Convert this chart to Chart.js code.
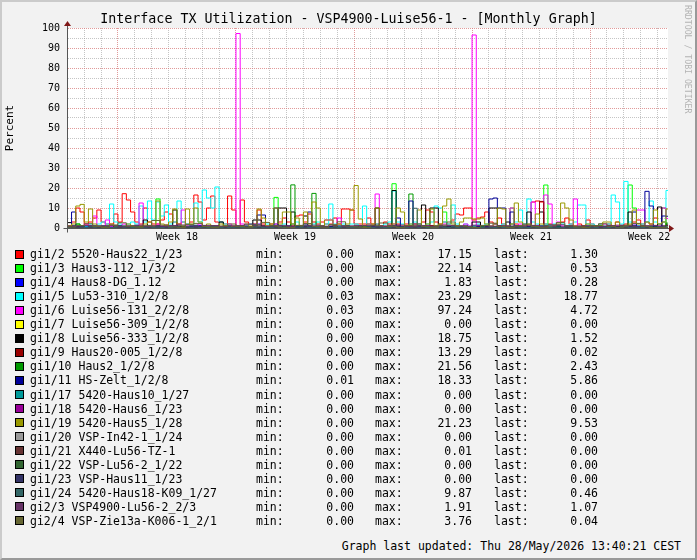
<!DOCTYPE html>
<html>
<head>
<meta charset="utf-8">
<title>Interface TX Utilization</title>
<script src="https://cdn.jsdelivr.net/npm/chart.js@4.4.1/dist/chart.umd.min.js"></script>
<style>
  html, body { margin: 0; padding: 0; background: #f2f2f2; }
  #frame { position: relative; width: 697px; height: 560px; overflow: hidden; background: #f2f2f2;
           font-family: "DejaVu Sans Mono", monospace; color: #000; }
  #edge { position: absolute; left: 0; top: 0; width: 697px; height: 560px; box-sizing: border-box;
          border-top: 2px solid #cbcbcb; border-left: 2px solid #cbcbcb;
          border-right: 2px solid #999; border-bottom: 2px solid #999; pointer-events: none; }
  #c { position: absolute; left: 0; top: 0; }
  .cell { position: absolute; white-space: pre; font-size: 11.5px; line-height: 14px; }
  .sw { position: absolute; left: 15px; width: 7px; height: 7px; border: 1px solid #000; }
  #stamp { position: absolute; right: 16px; top: 539px; font-size: 11.5px; line-height: 14px; white-space: pre; }
  #mark { position: absolute; left: 683px; top: 5px; writing-mode: vertical-rl; font-size: 8.2px;
          color: #b4b4b4; white-space: pre; }
</style>
</head>
<body>
<div id="frame">
  <canvas id="c" width="697" height="250"></canvas>
  <div id="legend"></div>
  <div id="stamp">Graph last updated: Thu 28/May/2026 13:40:21 CEST</div>
  <div id="mark">RRDTOOL / TOBI OETIKER</div>
  <div id="edge"></div>
</div>
<script>
// time axis in days, 0 = start of week 18
const START = -3;
const Q = 0.25;   // 6 hour samples
const H = 0.5;    // 12 hour samples
const D = 1;      // daily samples
const X_MIN = -3.02;
const X_MAX = 32.62;
const WEEK_POS = [3.5, 10.5, 17.5, 24.5, 31.5];
const WEEKS = ["Week 18", "Week 19", "Week 20", "Week 21", "Week 22"];

const RED = [
  1, 3, 10, 8, 2, 3, 5, 9, 3, 2,
  2, 7, 3, 17.15, 14, 8, 3, 2, 10, 3,
  2, 2, 4, 8, 7, 3, 2, 3, 2, 3,
  16.5, 13, 4, 10, 16, 3, 3, 2, 16, 9,
  1, 14, 3, 2, 2, 9, 2, 1, 2, 2,
  3, 5, 3, 2, 6, 6.5, 3, 7, 3, 2,
  3, 2, 2, 5, 2, 9.5, 9.5, 9, 2, 2,
  2, 5, 2, 2, 1, 3, 2, 1, 2, 1,
  2, 1, 2, 2, 3, 9, 8, 3, 2, 3,
  2, 4, 7, 6.5, 10, 10, 4, 5, 5.5, 8,
  3, 2, 5, 2, 1, 2, 2, 1, 2, 1,
  13, 13.5, 13, 2, 2, 1, 1, 3, 5, 2,
  1, 2, 1, 4, 2, 1, 2, 1, 2, 1,
  3, 1, 2, 1, 3, 4, 2, 3, 2, 5,
  2, 3, 1.3
];
const GREEN = [
  0.5, 0.3, 2.0, 0.4, 0.2, 0.7, 0.3, 0.5, 1.0, 0.4,
  0.2, 0.6, 0.3, 0.8, 1.0, 0.4, 0.2, 0.5, 0.3, 0.9,
  0.2, 14.5, 0.6, 0.3, 0.5, 1.2, 0.4, 1.0, 0.3, 0.6,
  0.2, 0.5, 0.8, 0.4, 0.2, 0.7, 0.3, 0.5, 0.2, 0.4,
  0.3, 0.6, 1.1, 0.5, 0.3, 0.4, 0.2, 0.8, 0.3, 15.3,
  0.5, 0.2, 0.4, 0.9, 0.6, 0.2, 0.5, 0.3, 0.4, 1.0,
  0.3, 0.6, 0.2, 0.5, 0.8, 0.4, 0.2, 0.6, 0.3, 0.5,
  1.2, 0.4, 0.3, 0.6, 0.2, 0.5, 1.0, 22.14, 0.4, 0.2,
  0.6, 0.3, 0.5, 0.9, 0.4, 0.3, 0.6, 0.2, 1.1, 8.0,
  0.4, 0.2, 0.6, 0.3, 0.5, 0.8, 0.4, 0.3, 0.6, 0.2,
  0.5, 0.3, 0.9, 0.2, 0.6, 10.0, 0.3, 0.5, 0.2, 0.4,
  0.3, 0.6, 1.0, 21.5, 0.5, 0.3, 0.4, 0.2, 0.7, 0.3,
  0.5, 0.2, 0.4, 0.8, 0.6, 0.2, 0.5, 0.3, 0.4, 0.9,
  0.6, 0.3, 0.5, 21.5, 10.0, 0.4, 0.2, 0.6, 0.3, 0.5,
  0.2, 10.0, 0.53
];
const BLUE = [
  0.3, 0.5, 0.8, 0.4, 0.2, 0.6, 1.1, 0.5, 0.3, 0.7,
  0.4, 0.9, 0.6, 0.3, 0.5, 1.2, 0.4, 0.2, 0.6, 0.8,
  0.3, 0.5, 1.83, 0.7, 0.4, 0.3, 0.6, 0.9, 0.5, 0.2,
  0.4, 0.7, 1.0, 0.5, 0.3, 0.6, 0.4, 0.8, 1.3, 0.5,
  0.3, 0.2, 0.6, 0.9, 0.4, 0.7, 0.5, 0.3, 1.1, 0.6,
  0.4, 0.2, 0.5, 0.8, 0.6, 0.3, 0.7, 1.4, 0.5, 0.4,
  0.2, 0.6, 0.9, 0.3, 0.5, 0.7, 0.4, 1.0, 0.6, 0.3,
  0.4, 0.28
];
const CYAN = [
  0.5, 1, 1, 0.5, 1, 2, 1, 2, 3, 2,
  12, 3, 2, 1, 2, 3, 2, 11, 3, 13.5,
  4, 13, 6, 11.5, 2, 3, 13.5, 3, 2, 1,
  12.5, 3, 19, 15, 10, 20.5, 3, 2, 1, 1,
  1, 0.5, 1, 2, 1, 2, 1, 2, 1, 2,
  1, 2, 1, 2, 3, 1, 2, 1, 2, 3,
  1, 2, 12, 2, 1, 2, 1, 2, 2, 1,
  11, 2, 1, 2, 1, 2, 3, 18.5, 3, 2,
  1, 2, 3, 2, 1, 2, 3, 11, 10, 3,
  2, 11.5, 2, 1, 2, 1, 1, 2, 1, 2,
  1, 2, 1, 2, 1, 2, 3, 9, 2, 14.5,
  3, 2, 1, 2, 1, 2, 1, 2, 1, 2,
  3, 11.5, 11.5, 2, 2, 1, 2, 1, 2, 16.5,
  13, 2, 23.29, 3, 2, 1, 2, 3, 13.5, 3,
  2, 3, 18.77
];
const MAGENTA = [
  0.5, 1, 0.5, 1, 2, 1, 6, 1, 0.5, 4,
  1, 0.5, 1, 2, 1, 0.5, 1, 12.5, 1, 0.5,
  1, 2, 1, 0.5, 1, 1, 2, 9, 1, 0.5,
  1, 2, 1, 0.5, 1, 1, 0.5, 1, 2, 1,
  97.24, 2, 1, 0.5, 1, 2, 1, 0.5, 1, 2,
  1, 0.5, 1, 1, 0.5, 1, 2, 1, 0.5, 1,
  1, 4, 4, 1, 5, 1, 0.5, 1, 1, 0.5,
  1, 2, 1, 17, 1, 0.5, 1, 2, 1, 0.5,
  1, 1, 2, 1, 0.5, 1, 1, 0.5, 1, 2,
  1, 0.5, 1, 1, 2, 1, 96.5, 1, 0.5, 1,
  1, 2, 1, 0.5, 1, 10, 1, 2, 1, 0.5,
  13, 1, 0.5, 16.5, 12, 1, 3, 1, 0.5, 1,
  14.5, 1, 0.5, 1, 1, 0.5, 1, 2, 1, 0.5,
  1, 1, 0.5, 1, 2, 9, 9, 1, 0.5, 1,
  1, 10, 4.72
];
const BLACK = [
  2.7, 1, 1, 0.5, 0, 0.5, 1, 0, 0.5, 1,
  0, 0.5, 1, 0, 0.5, 1, 0, 0.5, 4, 0,
  0.5, 1, 0, 0.5, 0, 9, 1, 0, 0.5, 1,
  0, 0.5, 1, 0, 0.5, 1, 3, 0.5, 1, 0,
  0.5, 1, 0, 0.5, 4, 4, 1, 0, 0.5, 1,
  10, 10, 1, 8, 0.5, 1, 6, 1, 0, 0.5,
  1, 0, 0.5, 1, 0, 0.5, 1, 0, 0.5, 1,
  0, 0.5, 1, 10, 1, 0, 0.5, 18.75, 1, 0.5,
  0, 1, 0.5, 1, 11.5, 0.5, 10, 10, 1, 0,
  0.5, 1, 0, 0.5, 1, 0, 3, 3, 0.5, 1,
  10, 10, 1, 0.5, 3, 0.5, 1, 0, 0.5, 8,
  1, 0.5, 8, 1, 0, 0.5, 1, 0, 0.5, 1,
  0, 0.5, 1, 0, 0.5, 1, 0, 0.5, 1, 0,
  0.5, 1, 0, 8, 1, 0.5, 1, 0, 0.5, 1,
  10.5, 1, 1.52
];
const DARKRED = [
  0.2, 0.5, 1.0, 0.4, 0.1, 0.3, 0.8, 0.2, 0.5, 0.1,
  0.3, 1.2, 0.4, 0.2, 0.6, 0.1, 0.3, 0.9, 0.2, 0.4,
  0.1, 0.5, 0.3, 1.5, 0.2, 0.1, 0.4, 0.7, 0.2, 0.3,
  0.1, 0.6, 0.2, 0.4, 1.1, 0.3, 0.1, 0.5, 0.2, 0.8,
  0.1, 0.3, 0.6, 0.2, 0.4, 0.1, 0.9, 0.3, 0.2, 0.5,
  0.1, 0.4, 0.2, 1.0, 0.3, 0.1, 0.6, 0.2, 0.4, 0.1,
  0.3, 0.7, 0.2, 0.5, 0.1, 0.3, 0.8, 0.2, 0.4, 0.1,
  0.6, 0.2, 0.3, 0.1, 0.5, 0.9, 0.2, 0.4, 0.1, 0.3,
  0.7, 0.2, 0.5, 0.1, 0.4, 0.3, 1.2, 0.2, 0.1, 0.6,
  0.3, 0.2, 0.4, 0.1, 0.8, 0.3, 0.2, 0.5, 0.1, 0.4,
  0.2, 0.6, 0.3, 0.1, 0.5, 0.2, 0.9, 0.3, 0.1, 0.4,
  0.2, 0.6, 13.29, 0.3, 0.1, 0.5, 0.2, 0.4, 0.7, 0.1,
  0.3, 0.2, 0.6, 0.1, 0.4, 0.2, 0.8, 0.3, 0.1, 0.5,
  0.2, 0.4, 0.1, 0.6, 0.3, 0.2, 0.5, 0.1, 0.4, 0.2,
  0.3, 0.1, 0.02
];
const DKGREEN = [
  0.2, 0.5, 2.0, 1.0, 0.3, 0.4, 0.1, 0.6, 0.3, 0.8,
  0.2, 0.4, 0.7, 0.3, 0.1, 0.5, 0.9, 0.2, 0.6, 0.3,
  0.4, 1.1, 0.2, 0.5, 0.3, 0.8, 0.1, 0.4, 0.6, 0.2,
  0.9, 0.3, 0.5, 0.1, 0.7, 0.4, 0.2, 1.0, 0.3, 0.5,
  0.2, 0.6, 0.4, 0.1, 0.8, 0.3, 0.5, 0.2, 1.2, 0.4,
  0.3, 0.7, 0.2, 21.56, 0.5, 0.3, 0.9, 0.4, 17.3, 0.6,
  0.2, 0.5, 0.3, 1.0, 0.4, 0.1, 0.7, 0.3, 0.5, 0.2,
  0.8, 0.4, 0.3, 0.6, 0.1, 0.5, 0.9, 0.3, 0.4, 0.2,
  0.6, 17.0, 0.4, 0.3, 0.7, 0.2, 0.5, 1.1, 0.3, 0.5,
  0.4, 0.2, 0.6, 0.3, 0.8, 0.5, 0.2, 0.4, 0.7, 0.3,
  0.1, 0.5, 0.9, 0.2, 0.4, 0.6, 0.3, 1.0, 0.2, 0.5,
  0.4, 0.7, 0.3, 0.2, 0.6, 0.4, 0.8, 0.3, 0.5, 0.1,
  0.4, 0.9, 0.2, 0.6, 0.3, 0.5, 1.2, 0.4, 0.2, 0.7,
  0.3, 0.5, 0.8, 0.4, 0.6, 0.2, 0.9, 0.3, 0.5, 0.4,
  0.6, 0.3, 2.43
];
const NAVY = [
  1, 8, 1, 0.5, 0.2, 1, 0.5, 0.3, 1, 0.5,
  0.2, 0.4, 1, 0.3, 0.5, 0.2, 1, 0.4, 0.6, 0.2,
  0.3, 1, 0.5, 0.2, 0.4, 1, 0.3, 0.5, 0.2, 0.6,
  1, 0.3, 0.2, 0.5, 1, 0.4, 0.2, 0.3, 0.6, 0.2,
  0.1, 0.3, 0.5, 0.2, 1, 6.5, 6.5, 0.4, 0.3, 10,
  1, 0.5, 0.3, 0.2, 0.6, 0.4, 1, 8, 0.5, 0.3,
  0.2, 0.4, 0.6, 0.3, 0.2, 0.5, 1, 0.3, 0.4, 0.2,
  0.5, 0.3, 1, 0.4, 0.2, 0.6, 0.3, 1, 5, 0.5,
  0.3, 13.5, 1, 0.4, 0.2, 0.6, 0.3, 0.5, 0.2, 0.4,
  0.3, 0.6, 0.2, 0.5, 0.3, 0.4, 0.2, 0.6, 0.3, 0.5,
  14.5, 15, 10, 10, 0.5, 8, 0.3, 0.4, 0.2, 0.6,
  0.5, 0.3, 1, 0.4, 0.2, 0.3, 0.5, 0.2, 0.6, 0.4,
  0.3, 0.5, 0.2, 0.4, 0.6, 0.3, 0.2, 0.5, 0.4, 0.3,
  0.2, 0.5, 0.3, 1, 8, 0.4, 0.6, 18.33, 11, 0.5,
  0.3, 6, 5.86
];
const OLIVE = [
  1, 2, 11, 11.8, 3, 9.5, 2, 1, 0.5, 1,
  2, 1, 0.5, 1, 2, 1, 0.5, 1, 2, 3,
  1, 13.5, 2, 1, 3, 9.5, 2, 1, 9.5, 2,
  10, 3, 1, 2, 1, 0.5, 2, 1, 0.5, 1,
  0.5, 1, 2, 1, 0.5, 9.5, 5, 1, 2, 10,
  2, 8, 8, 2, 5, 1, 8, 2, 13, 10,
  1, 4, 4, 1, 2, 1, 2, 9, 21.23, 4.5,
  1, 2, 2, 10, 1, 0.5, 1, 2, 10, 8,
  1, 2, 1, 9, 1, 2, 9.5, 1, 2, 11,
  14.5, 2, 1, 3, 5, 5, 4.5, 4.5, 5, 2,
  1, 2, 10, 9.5, 1, 2, 12.5, 3, 1, 2,
  1, 7, 2, 1, 0.5, 1, 2, 12.5, 10, 4,
  1, 0.5, 1, 2, 1, 0.5, 1, 3, 3, 1,
  3, 1, 0.5, 2, 9, 2, 1, 3, 2, 9,
  2, 3, 9.53
];
const TEAL18 = [
  0.3, 0.6, 1.2, 0.5, 0.2, 0.8, 0.4, 1.0, 0.3, 0.6,
  0.2, 0.5, 1.1, 0.4, 0.7, 0.3, 0.9, 0.2, 0.5, 1.3,
  0.4, 0.6, 0.2, 0.8, 0.3, 1.0, 0.5, 0.2, 0.7, 0.4,
  1.4, 0.3, 0.6, 0.2, 0.9, 0.5, 0.3, 0.7, 0.2, 0.4,
  0.6, 0.3, 1.0, 0.2, 0.5, 0.8, 0.3, 0.4, 0.2, 1.2,
  0.5, 0.3, 0.7, 0.2, 0.6, 0.4, 1.5, 0.3, 0.5, 0.2,
  0.8, 0.4, 0.3, 0.6, 0.2, 1.0, 0.5, 0.3, 0.7, 0.4,
  0.2, 0.6, 0.3, 0.9, 0.5, 0.2, 0.4, 1.1, 0.3, 0.6,
  0.2, 0.5, 9.87, 0.4, 0.8, 0.3, 0.6, 0.2, 1.0, 0.4,
  0.3, 0.7, 0.2, 0.5, 0.9, 0.3, 0.6, 0.2, 0.4, 1.2,
  0.5, 0.3, 0.8, 0.2, 0.6, 0.4, 1.0, 0.3, 0.5, 0.2,
  0.7, 0.4, 0.3, 1.3, 0.2, 0.6, 0.5, 0.3, 0.9, 0.4,
  0.2, 0.6, 0.3, 1.0, 0.5, 0.2, 0.8, 0.4, 0.3, 0.7,
  0.2, 0.5, 1.1, 0.3, 0.6, 0.4, 0.2, 0.9, 0.5, 0.3,
  0.7, 0.4, 0.46
];
const GI2_3 = [
  0.8, 1.0, 1.2, 0.9, 1.1, 1.3, 0.7, 1.0, 1.4, 0.9,
  1.1, 0.8, 1.2, 1.5, 1.0, 0.9, 1.3, 1.1, 0.8, 1.0,
  1.2, 1.91, 1.1, 0.9, 1.0, 1.3, 0.8, 1.2, 1.0, 1.4,
  0.9, 1.1, 1.0, 0.8, 1.2, 1.3, 1.0, 0.9, 1.1, 1.5,
  0.8, 1.0, 1.2, 0.9, 1.1, 1.3, 1.0, 0.8, 1.4, 1.1,
  0.9, 1.2, 1.0, 0.8, 1.1, 1.3, 0.9, 1.0, 1.6, 1.2,
  0.9, 1.1, 1.0, 0.8, 1.2, 1.4, 1.0, 0.9, 1.1, 1.3,
  1.0, 1.07
];
const GI2_4 = [
  0.5, 1.2, 2.1, 0.8, 0.3, 1.5, 2.6, 0.9, 0.4, 1.1,
  3.76, 1.4, 0.6, 0.2, 1.8, 2.3, 0.7, 0.3, 1.0, 2.0,
  0.9, 0.4, 1.6, 2.8, 1.1, 0.5, 0.3, 1.3, 2.2, 0.8,
  0.4, 1.7, 3.1, 1.0, 0.5, 0.2, 1.4, 2.5, 0.9, 0.3,
  1.2, 2.0, 0.7, 0.4, 1.5, 3.0, 1.1, 0.6, 0.2, 1.3,
  2.4, 0.8, 0.3, 1.0, 1.9, 0.7, 0.4, 1.6, 2.7, 1.0,
  0.5, 0.3, 1.2, 2.1, 0.8, 0.4, 1.4, 2.3, 0.9, 0.3,
  0.2, 0.04
];
// interfaces that stayed at 0.00 (or 0.01) all month
const IDLE = [
  0, 0, 0, 0, 0, 0, 0, 0, 0, 0,
  0, 0, 0, 0, 0, 0, 0, 0, 0, 0,
  0, 0, 0, 0, 0, 0, 0, 0, 0, 0,
  0, 0, 0, 0, 0, 0, 0
];

const NAMES = [
  "gi1/2 5520-Haus22_1/23", "gi1/3 Haus3-112_1/3/2", "gi1/4 Haus8-DG_1.12",
  "gi1/5 Lu53-310_1/2/8", "gi1/6 Luise56-131_2/2/8", "gi1/7 Luise56-309_1/2/8",
  "gi1/8 Luise56-333_1/2/8", "gi1/9 Haus20-005_1/2/8", "gi1/10 Haus2_1/2/8",
  "gi1/11 HS-Zelt_1/2/8", "gi1/17 5420-Haus10_1/27", "gi1/18 5420-Haus6_1/23",
  "gi1/19 5420-Haus5_1/28", "gi1/20 VSP-In42-1_1/24", "gi1/21 X440-Lu56-TZ-1",
  "gi1/22 VSP-Lu56-2_1/22", "gi1/23 VSP-Haus11_1/23", "gi1/24 5420-Haus18-K09_1/27",
  "gi2/3 VSP4900-Lu56-2_2/3", "gi2/4 VSP-Zie13a-K006-1_2/1"
];
const SERIES = [RED, GREEN, BLUE, CYAN, MAGENTA, IDLE, BLACK, DARKRED, DKGREEN, NAVY,
                IDLE, IDLE, OLIVE, IDLE, IDLE, IDLE, IDLE, TEAL18, GI2_3, GI2_4];
const STEPS = [Q, Q, H, Q, Q, D, Q, Q, Q, Q, D, D, Q, D, D, D, D, Q, H, H];
const MINS = [0, 0, 0, 0.03, 0.03, 0, 0, 0, 0, 0.01, 0, 0, 0, 0, 0, 0, 0, 0, 0, 0];
const MAXS = [17.15, 22.14, 1.83, 23.29, 97.24, 0, 18.75, 13.29, 21.56, 18.33,
              0, 0, 21.23, 0, 0.01, 0, 0, 9.87, 1.91, 3.76];
const LASTS = [1.30, 0.53, 0.28, 18.77, 4.72, 0, 1.52, 0.02, 2.43, 5.86,
               0, 0, 9.53, 0, 0, 0, 0, 0.46, 1.07, 0.04];

const COLORS = ["#FF0000", "#00FF00", "#0000FF", "#00FFFF", "#FF00FF", "#FFFF00", "#000000",
                "#990000", "#009900", "#000099", "#009999", "#990099", "#999900", "#999999",
                "#663333", "#336633", "#333366", "#336666", "#663366", "#666633"];
const MINOR = "rgba(150,150,150,0.55)";
const MAJOR = "rgba(215,120,120,0.75)";
const FONT = "DejaVu Sans Mono";

function toPoints(values, step) {
  var pts = values.map(function (v, i) { return { x: START + i * step, y: v }; });
  pts.push({ x: START + values.length * step, y: values[values.length - 1] });
  return pts;
}

var xTicks = [];
for (var d = -3; d <= 32; d++) xTicks.push(d);
xTicks = xTicks.concat(WEEK_POS).sort(function (a, b) { return a - b; });

var canvasBits = {
  id: "canvasBits",
  beforeDraw: function (chart) {
    var a = chart.chartArea, ctx = chart.ctx;
    ctx.save();
    ctx.fillStyle = "#ffffff";
    ctx.fillRect(a.left, a.top, a.right - a.left, a.bottom - a.top);
    ctx.restore();
  },
  afterDraw: function (chart) {
    var a = chart.chartArea, ctx = chart.ctx;
    var l = Math.round(a.left) + 0.5, b = Math.round(a.bottom) + 0.5;
    ctx.save();
    ctx.strokeStyle = "#555";
    ctx.lineWidth = 1;
    ctx.beginPath();
    ctx.moveTo(l, b + 4); ctx.lineTo(l, a.top - 3);
    ctx.moveTo(l - 4, b); ctx.lineTo(a.right + 3, b);
    ctx.stroke();
    ctx.fillStyle = "#801818";
    ctx.beginPath();
    ctx.moveTo(l - 3.5, a.top - 2); ctx.lineTo(l + 3.5, a.top - 2); ctx.lineTo(l, a.top - 7);
    ctx.closePath(); ctx.fill();
    ctx.beginPath();
    ctx.moveTo(a.right + 1, b - 3.5); ctx.lineTo(a.right + 1, b + 3.5); ctx.lineTo(a.right + 6, b);
    ctx.closePath(); ctx.fill();
    ctx.restore();
  }
};

new Chart(document.getElementById("c"), {
  type: "line",
  data: {
    datasets: NAMES.map(function (name, i) {
      return {
        label: name,
        data: toPoints(SERIES[i], STEPS[i]),
        borderColor: COLORS[i],
        borderWidth: 1,
        pointRadius: 0,
        stepped: true,
        fill: false,
        order: NAMES.length - i
      };
    })
  },
  options: {
    responsive: false,
    animation: false,
    layout: { padding: { left: 0, right: 0, top: 0, bottom: 4 } },
    plugins: {
      legend: { display: false },
      tooltip: { enabled: false },
      title: {
        display: true,
        text: "Interface TX Utilization - VSP4900-Luise56-1 - [Monthly Graph]",
        color: "#000",
        font: { family: FONT, size: 13.3, weight: "normal" },
        padding: { top: 12, bottom: 0.04 }
      }
    },
    scales: {
      x: {
        type: "linear",
        min: X_MIN,
        max: X_MAX,
        afterBuildTicks: function (s) {
          s.ticks = xTicks.map(function (v) { return { value: v }; });
        },
        afterFit: function (s) { s.height = 18; },
        ticks: {
          autoSkip: false,
          maxRotation: 0,
          padding: 3,
          color: "#000",
          font: { family: FONT, size: 10 },
          callback: function (v) {
            var k = WEEK_POS.indexOf(v);
            return k >= 0 ? WEEKS[k] : "";
          }
        },
        grid: {
          drawTicks: false,
          lineWidth: 1,
          color: function (c) {
            var v = c.tick ? c.tick.value : 0;
            if (!Number.isInteger(v)) return "rgba(0,0,0,0)";
            return v % 7 === 0 ? MAJOR : MINOR;
          }
        },
        border: { display: true, color: "#555", dash: [1, 1] }
      },
      y: {
        min: 0,
        max: 100,
        afterFit: function (s) { s.width = 67; },
        ticks: {
          stepSize: 5,
          autoSkip: false,
          padding: 7,
          color: "#000",
          font: { family: FONT, size: 10 },
          callback: function (v) { return v % 10 === 0 ? String(v) : ""; }
        },
        grid: {
          drawTicks: false,
          lineWidth: 1,
          color: function (c) {
            var v = c.tick ? c.tick.value : 0;
            return v % 10 === 0 ? MAJOR : MINOR;
          }
        },
        border: { display: true, color: "#555", dash: [1, 1] },
        title: {
          display: true,
          text: "Percent",
          color: "#000",
          font: { family: FONT, size: 11 },
          padding: { top: 4, bottom: 0 }
        }
      },
      // empty right-hand gutter where the rrdtool watermark sits
      gutter: {
        type: "linear",
        position: "right",
        min: 0,
        max: 100,
        afterFit: function (s) { s.width = 29; },
        ticks: { display: false },
        grid: { display: false, drawTicks: false },
        border: { display: false }
      }
    }
  },
  plugins: [canvasBits]
});

// legend rows, rrdtool style
var legend = document.getElementById("legend");
function cell(text, y, left, right) {
  var el = document.createElement("div");
  el.className = "cell";
  el.textContent = text;
  el.style.top = (y - 7) + "px";
  if (left !== null) el.style.left = left + "px";
  else el.style.right = (697 - right) + "px";
  legend.appendChild(el);
}
NAMES.forEach(function (name, i) {
  var y = 254 + i * 14.05;
  var sw = document.createElement("div");
  sw.className = "sw";
  sw.style.top = (y - 4.5) + "px";
  sw.style.background = COLORS[i];
  legend.appendChild(sw);
  cell(name, y, 30, null);
  cell("min:", y, 256, null);
  cell(MINS[i].toFixed(2), y, null, 354);
  cell("max:", y, 375, null);
  cell(MAXS[i].toFixed(2), y, null, 472);
  cell("last:", y, 494, null);
  cell(LASTS[i].toFixed(2), y, null, 598);
});
</script>
</body>
</html>
